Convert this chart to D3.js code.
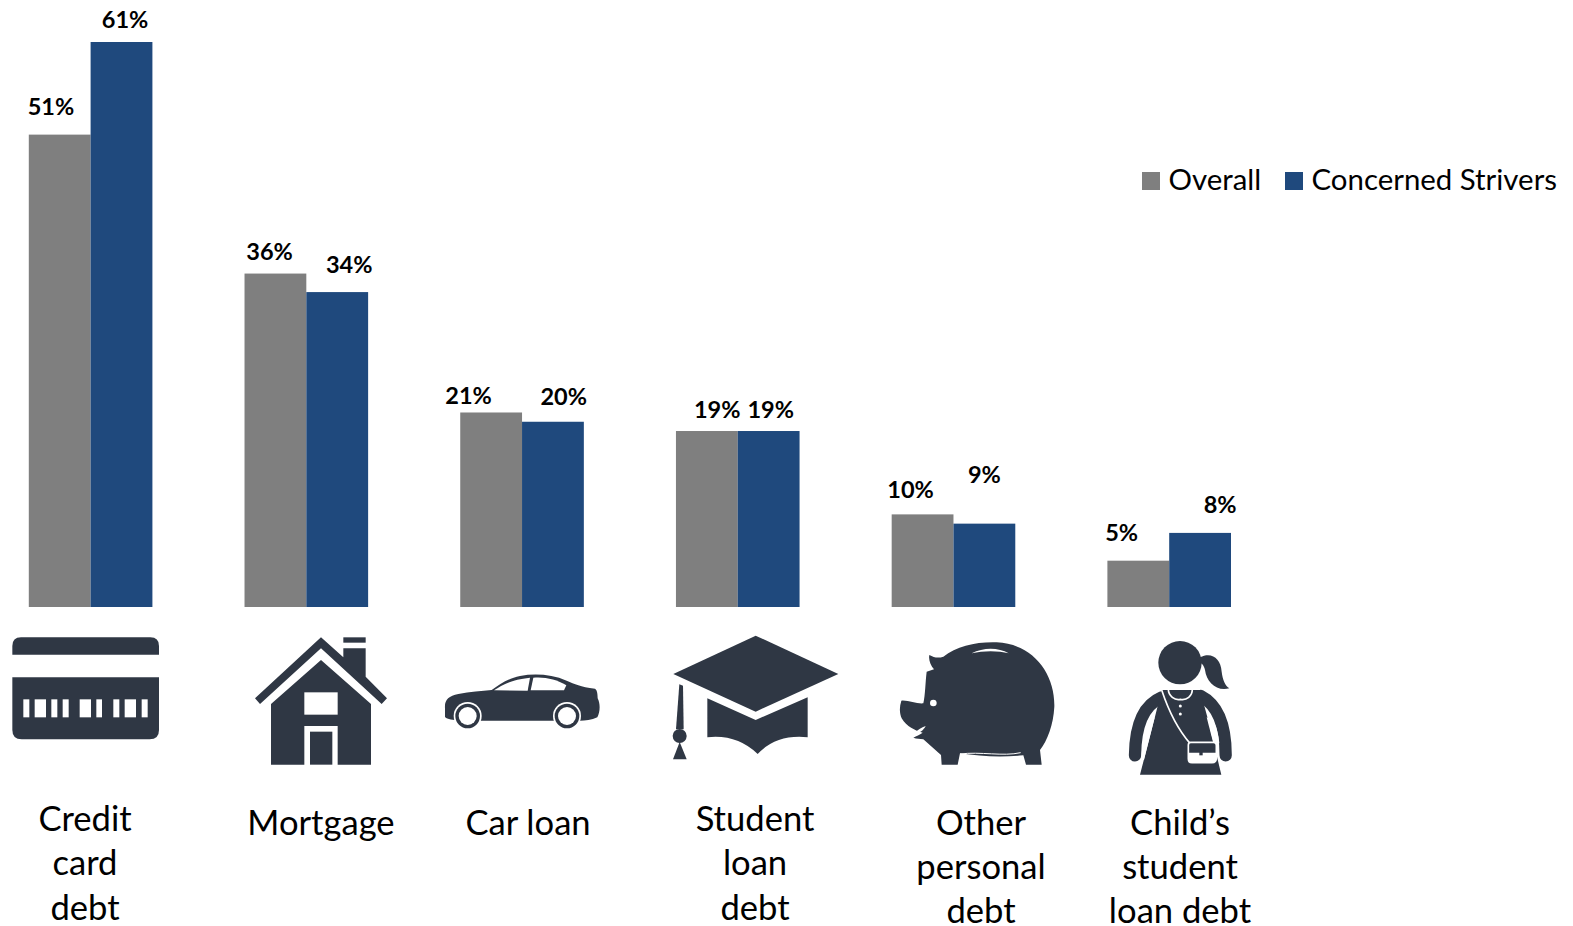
<!DOCTYPE html>
<html>
<head>
<meta charset="utf-8">
<title>Debt held by type</title>
<script src="https://cdn.jsdelivr.net/npm/d3@7"></script>
<style>
  html, body { margin: 0; padding: 0; background: #fff; }
  svg { display: block; font-family: Lato, "Noto Sans", sans-serif; }
</style>
</head>
<body>
<svg id="chart" width="1573" height="926"></svg>
<script>
// Data
const categories = ["Credit card debt", "Mortgage", "Car loan", "Student loan debt", "Other personal debt", "Child's student loan debt"];
const seriesNames = ["Overall", "Concerned Strivers"];
const overall = [51, 36, 21, 19, 10, 5];
const strivers = [61, 34, 20, 19, 9, 8];
const categoryLines = [
  ["Credit", "card", "debt"],
  ["Mortgage"],
  ["Car loan"],
  ["Student", "loan", "debt"],
  ["Other", "personal", "debt"],
  ["Child\u2019s", "student", "loan debt"]
];

// Layout
const colors = { Overall: "#7f7f7f", "Concerned Strivers": "#1f497d" };
const iconColor = "#2f3744";
const baseline = 607;
const captionCentres = [85, 321, 528, 755, 981, 1180];
const captionFirstLine = [831, 834.5, 834.5, 831, 834.5, 834.5];
const captionLeading = 44.3;
// Hand-placed value labels: [dx from bar centre, gap between text baseline and bar top]
const labelOffsets = {
  Overall: [[-8.8, 19.7], [-5.8, 13.7], [-22.5, 8.5], [10.3, 13.5], [-12, 16.5], [-16.6, 20]],
  "Concerned Strivers": [[3.6, 14.3], [12, 19.5], [10.8, 16.5], [2, 13.5], [0, 40.5], [20, 20]]
};

const svg = d3.select("#chart");
const x0 = d3.scaleBand().domain(categories).range([28.8, 1231]).paddingInner(0.427).paddingOuter(0);
const x1 = d3.scaleBand().domain(seriesNames).range([0, x0.bandwidth()]);
const y = d3.scaleLinear().domain([0, 61]).range([baseline, 42]);

const seriesData = [
  { name: "Overall", values: overall },
  { name: "Concerned Strivers", values: strivers }
];

// Bars
const groups = svg.selectAll("g.series").data(seriesData).join("g").attr("class", "series");
groups.selectAll("rect")
  .data(s => s.values.map((v, i) => ({ v, i, name: s.name })))
  .join("rect")
  .attr("x", d => x0(categories[d.i]) + x1(d.name))
  .attr("y", d => y(d.v))
  .attr("width", x1.bandwidth())
  .attr("height", d => baseline - y(d.v))
  .attr("fill", d => colors[d.name]);

// Value labels
groups.selectAll("text")
  .data(s => s.values.map((v, i) => ({ v, i, name: s.name })))
  .join("text")
  .attr("x", d => x0(categories[d.i]) + x1(d.name) + x1.bandwidth() / 2 + labelOffsets[d.name][d.i][0])
  .attr("y", d => y(d.v) - labelOffsets[d.name][d.i][1])
  .attr("text-anchor", "middle")
  .attr("font-weight", 700)
  .attr("font-size", 23.5)
  .attr("fill", "#000")
  .text(d => d.v + "%");

// Category captions
svg.selectAll("text.caption")
  .data(categoryLines)
  .join("text")
  .attr("class", "caption")
  .attr("text-anchor", "middle")
  .attr("font-size", 34.6)
  .attr("fill", "#000")
  .each(function (lines, i) {
    d3.select(this).selectAll("tspan").data(lines).join("tspan")
      .attr("x", captionCentres[i])
      .attr("y", (_, k) => captionFirstLine[i] + k * captionLeading)
      .text(d => d);
  });

// Legend
const legendX = { Overall: 1142, "Concerned Strivers": 1285 };
const legend = svg.selectAll("g.legend").data(seriesNames).join("g")
  .attr("class", "legend")
  .attr("transform", d => `translate(${legendX[d]},172)`);
legend.append("rect").attr("width", 18).attr("height", 18).attr("fill", d => colors[d]);
legend.append("text").attr("x", 26.5).attr("y", 18).attr("font-size", 29.4).attr("fill", "#000").text(d => d);

// Pictograms, each authored at triple scale
function icon(tx, ty) {
  return svg.append("g").attr("transform", `translate(${tx},${ty}) scale(${1 / 3})`).attr("fill", iconColor);
}

// Credit card
const card = icon(0, 610);
card.append("path").attr("d", "M37 134V108Q37 82 63 82H451Q477 82 477 108V134Z");
card.append("path").attr("d", "M37 202H477V360Q477 388 449 388H65Q37 388 37 360Z");
card.selectAll("rect").data([[70, 18], [104, 34], [154, 18], [188, 18], [239, 34], [289, 17], [340, 18], [374, 34], [425, 18]])
  .join("rect").attr("x", d => d[0]).attr("width", d => d[1]).attr("y", 268).attr("height", 54).attr("fill", "#fff");

// House
const house = icon(0, 610);
house.append("path").attr("d", "M963 82L765 265L780 282L963 115L1145 282L1161 265L1097 200V115H1030V142Z");
house.append("rect").attr("x", 1030).attr("y", 82).attr("width", 67).attr("height", 16);
house.append("path").attr("d", "M963 150L1113 282V464H1013V348H913V464H813V282Z");
house.append("rect").attr("x", 913).attr("y", 247).attr("width", 100).attr("height", 67).attr("fill", "#fff");
house.append("rect").attr("x", 930).attr("y", 365).attr("width", 67).attr("height", 99);

// Car
const car = icon(420, 610);
car.append("path").attr("d", "M75 295C73 270 85 258 115 252C150 245 185 243 215 240C240 222 265 205 300 198C345 190 395 193 440 212C465 222 480 230 525 236C532 240 533 255 533 265C541 280 541 305 532 322C515 330 495 332 480 332H405H180L110 330C95 330 75 325 75 320Z");
[143, 441].forEach(cx => {
  car.append("circle").attr("cx", cx).attr("cy", 318).attr("r", 42).attr("fill", "#fff");
  car.append("circle").attr("cx", cx).attr("cy", 318).attr("r", 37);
  car.append("circle").attr("cx", cx).attr("cy", 318).attr("r", 27).attr("fill", "#fff");
});
car.append("path").attr("fill", "#fff").attr("d", "M222 241C245 225 270 210 330 203L323 242Z");
car.append("path").attr("fill", "#fff").attr("d", "M340 203C375 200 410 208 439 226L432 241H332Z");

// Graduation cap
const cap = icon(420, 610);
cap.append("path").attr("d", "M1007 77L1255 192L1007 305L760 192Z");
cap.append("path").attr("d", "M862 265L1007 330L1163 262V382Q1070 372 1013 432Q950 372 862 382Z");
cap.append("path").attr("d", "M778 223L789 227L791 358H768Z");
cap.append("circle").attr("cx", 779).attr("cy", 378).attr("r", 21);
cap.append("path").attr("d", "M779 396L800 448H759Z");

// Piggy bank
const pig = icon(860, 610);
pig.append("path").attr("d", "M124 272C145 270 170 282 190 280C196 255 196 215 200 185L222 178C212 165 205 150 208 135C222 143 235 145 250 140C290 108 350 95 410 97C520 102 585 190 583 290C580 345 562 392 540 420L545 464H498L490 436C430 442 360 440 300 430L293 464H245L243 435L190 388C180 385 170 388 160 383C170 378 178 375 188 368C165 362 140 350 125 325C118 310 118 290 124 272Z");
pig.append("path").attr("fill", "#fff").attr("d", "M335 130C370 112 415 112 446 130C415 122 370 122 335 130Z");
pig.append("circle").attr("cx", 220).attr("cy", 279).attr("r", 10).attr("fill", "#fff");
pig.append("path").attr("fill", "#fff").attr("d", "M160 372C172 360 185 352 197 348C190 362 178 370 160 372Z");
pig.append("path").attr("fill", "none").attr("stroke", "#fff").attr("stroke-width", 3).attr("d", "M300 432C360 424 430 440 482 428");

// Girl with satchel
const girl = icon(860, 610);
girl.append("circle").attr("cx", 960).attr("cy", 158).attr("r", 65);
girl.append("path").attr("d", "M1020 142C1055 125 1082 145 1085 185C1088 210 1096 228 1108 235C1070 245 1040 218 1035 180C1032 165 1025 160 1020 158Z");
girl.selectAll("path.arm").data(["M905 262C850 285 826 345 825 436", "M1022 258C1075 285 1097 345 1097 436"])
  .join("path").attr("class", "arm").attr("d", d => d)
  .attr("fill", "none").attr("stroke", iconColor).attr("stroke-width", 37).attr("stroke-linecap", "round");
girl.append("path").attr("d", "M905 240H1020L1043 325L1084 494H840L885 320Z");
// Slivers of white between the arms and the dress
girl.append("path").attr("fill", "#fff").attr("d", "M884 322L852 450H843C846 405 855 365 872 330Z");
girl.append("path").attr("fill", "#fff").attr("d", "M1040 322L1060 400H1078C1076 375 1070 350 1058 330Z");
girl.append("path").attr("fill", "none").attr("stroke", "#fff").attr("stroke-width", 5).attr("d", "M905 240C925 300 955 360 990 400");
girl.append("path").attr("fill", "none").attr("stroke", "#fff").attr("stroke-width", 5).attr("d", "M925 238C925 258 945 272 961 268C980 272 997 258 997 238");
girl.selectAll("circle.button").data([288, 312]).join("circle").attr("class", "button")
  .attr("cx", 961).attr("cy", d => d).attr("r", 4.5).attr("fill", "#fff");
girl.append("path").attr("fill", iconColor).attr("stroke", "#fff").attr("stroke-width", 5)
  .attr("d", "M992 397H1060Q1070 397 1069 410V446Q1068 458 1056 458H996Q985 458 985 446V405Q985 397 992 397Z");
girl.append("path").attr("fill", "#fff").attr("d", "M985 428H1069V446Q1068 458 1056 458H996Q985 458 985 446Z");
girl.append("rect").attr("x", 1018).attr("y", 424).attr("width", 10).attr("height", 12).attr("fill", iconColor);
</script>
</body>
</html>
